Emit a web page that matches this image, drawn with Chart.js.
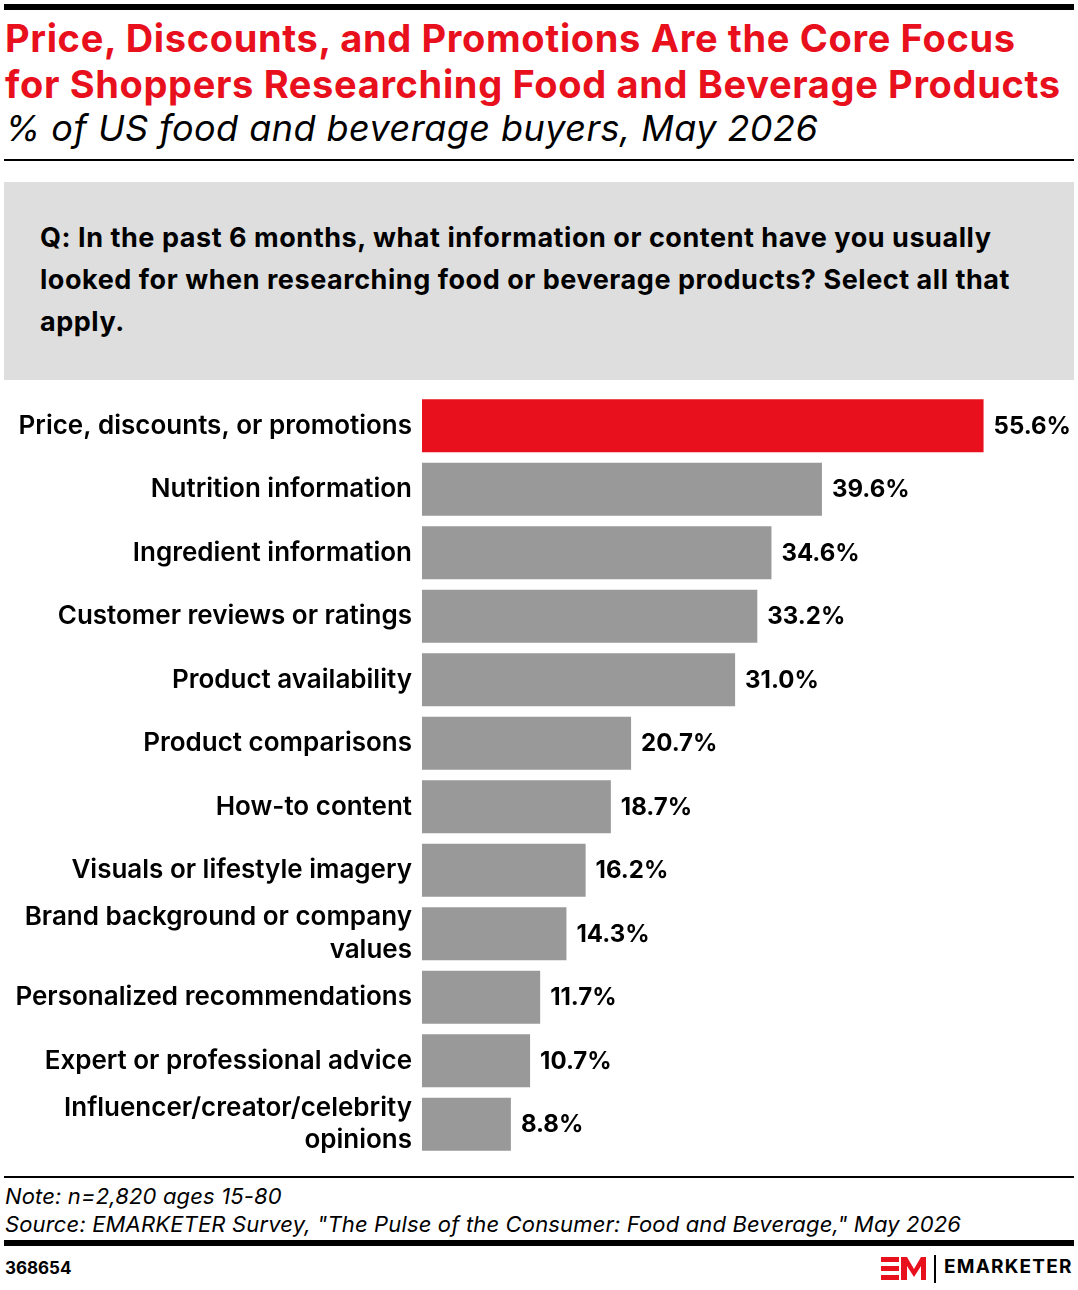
<!DOCTYPE html>
<html>
<head>
<meta charset="utf-8">
<script src="https://cdn.jsdelivr.net/npm/chart.js@4.4.1/dist/chart.umd.min.js"></script>
<style>
  body { margin: 0; width: 1078px; height: 1290px; background: #fff; position: relative; font-family: "Inter", "Lato", sans-serif; color: #000; overflow: hidden; }
  .abs { position: absolute; }
  .rule-thick { left: 4px; width: 1070px; height: 6px; background: #000; }
  .rule-thin { left: 4px; width: 1070px; height: 2px; background: #000; }
  #title { left: 5px; top: 15px; font-weight: 700; font-size: 38px; line-height: 46px; color: #e8101c; letter-spacing: 0.65px; white-space: nowrap; }
  #subtitle { left: 5px; top: 106px; font-style: italic; font-size: 36px; line-height: 44px; letter-spacing: 0.45px; white-space: nowrap; }
  #question { left: 4px; top: 182px; width: 1070px; height: 198px; background: #dedede; }
  #question p { margin: 0; position: absolute; left: 36px; top: 35px; width: 1000px; font-weight: 700; font-size: 27px; line-height: 42px; letter-spacing: 0.55px; }
  #chart-wrap { left: 0; top: 390px; width: 1078px; height: 770px; }
  #note { left: 5px; top: 1182px; font-style: italic; font-size: 22px; line-height: 28px; letter-spacing: 0.15px; white-space: nowrap; }
  #chart-id { left: 5px; top: 1258px; font-weight: 700; font-size: 17px; }
  #brand { left: 944px; top: 1255px; font-weight: 700; font-size: 19px; letter-spacing: 1.2px; }
</style>
</head>
<body>
<div class="abs rule-thick" style="top:4px"></div>
<div class="abs" id="title">Price, Discounts, and Promotions Are the Core Focus<br>for Shoppers Researching Food and Beverage Products</div>
<div class="abs" id="subtitle">% of US food and beverage buyers, May 2026</div>
<div class="abs rule-thin" style="top:159px"></div>
<div class="abs" id="question"><p>Q: In the past 6 months, what information or content have you usually looked for when researching food or beverage products? Select all that apply.</p></div>
<div class="abs" id="chart-wrap"><canvas id="barChart" width="1078" height="770"></canvas></div>
<div class="abs rule-thin" style="top:1176px"></div>
<div class="abs" id="note">Note: n=2,820 ages 15-80<br>Source: EMARKETER Survey, "The Pulse of the Consumer: Food and Beverage," May 2026</div>
<div class="abs rule-thick" style="top:1240px"></div>
<div class="abs" id="chart-id">368654</div>
<svg class="abs" style="left:881px;top:1255px" width="56" height="28" viewBox="0 0 56 28">
  <rect x="0" y="2" width="18" height="5" fill="#e8101c"/>
  <rect x="0" y="11" width="18" height="5" fill="#e8101c"/>
  <rect x="0" y="20" width="18" height="5" fill="#e8101c"/>
  <polygon points="20,25 20,2 26,2 33,14 40,2 45,2 45,25 40,25 40,11 33,22 26,11 26,25" fill="#e8101c"/>
  <rect x="53" y="0" width="2" height="28" fill="#000"/>
</svg>
<div class="abs" id="brand">EMARKETER</div>

<script>
// chart data
const categories = [
    'Price, discounts, or promotions',
    'Nutrition information',
    'Ingredient information',
    'Customer reviews or ratings',
    'Product availability',
    'Product comparisons',
    'How-to content',
    'Visuals or lifestyle imagery',
    ['Brand background or company', 'values'],
    'Personalized recommendations',
    'Expert or professional advice',
    ['Influencer/creator/celebrity', 'opinions']
];
const share_values = [55.6, 39.6, 34.6, 33.2, 31.0, 20.7, 18.7, 16.2, 14.3, 11.7, 10.7, 8.8];
const bar_colors = share_values.map((v, i) => i === 0 ? '#e8101c' : '#999999');

const label_font = '"Inter", "Lato", sans-serif';

// draws "55.6%" etc. just right of each bar
const value_labels = {
    id: 'valueLabels',
    afterDatasetsDraw(chart) {
        const ctx = chart.ctx;
        const meta = chart.getDatasetMeta(0);
        ctx.save();
        ctx.font = '700 24px ' + label_font;
        ctx.fillStyle = '#000';
        ctx.textAlign = 'left';
        ctx.textBaseline = 'middle';
        meta.data.forEach((bar, i) => {
            ctx.fillText(share_values[i].toFixed(1) + '%', bar.x + 10, bar.y + 1);
        });
        ctx.restore();
    }
};

const ctx = document.getElementById('barChart').getContext('2d');
new Chart(ctx, {
    type: 'bar',
    data: {
        labels: categories,
        datasets: [{
            data: share_values,
            backgroundColor: bar_colors,
            borderWidth: 0,
            barPercentage: 0.835,
            categoryPercentage: 1.0
        }]
    },
    options: {
        indexAxis: 'y',
        responsive: false,
        animation: false,
        layout: { padding: { top: 4, bottom: 4, right: 50, left: 0 } },
        plugins: {
            legend: { display: false },
            tooltip: { enabled: false }
        },
        scales: {
            x: {
                display: false,
                min: 0,
                max: 60
            },
            y: {
                grid: { display: false, drawTicks: false },
                border: { display: false },
                afterFit(scale) {
                    scale.width = 422;
                    scale.paddingTop = 0;
                    scale.paddingBottom = 0;
                },
                ticks: {
                    color: '#000',
                    padding: 10,
                    autoSkip: false,
                    font: { family: label_font, size: 26, weight: '600', lineHeight: 1.25 }
                }
            }
        }
    },
    plugins: [value_labels]
});
</script>
</body>
</html>
